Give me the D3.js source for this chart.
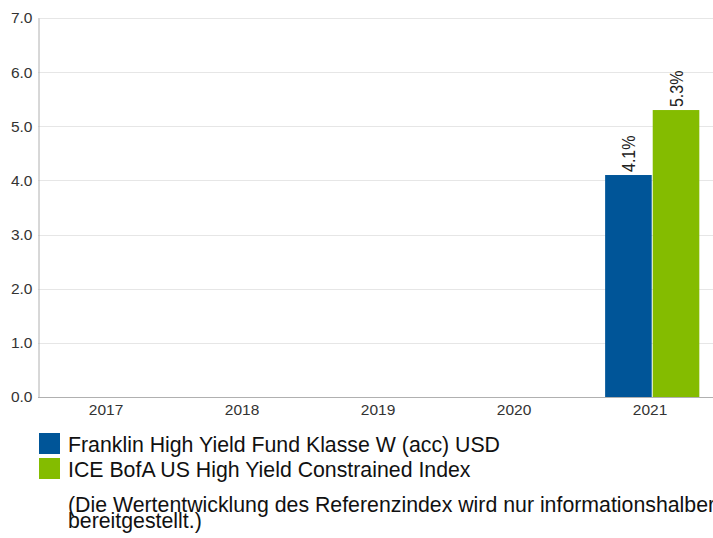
<!DOCTYPE html>
<html><head><meta charset="utf-8">
<script src="https://cdn.jsdelivr.net/npm/d3@7"></script>
<style>body{margin:0;background:#fff;overflow:hidden}svg{display:block;font-family:"Liberation Sans",Arial,sans-serif}</style>
</head><body>
<script>
const categories = ["2017","2018","2019","2020","2021"];
const seriesNames = ["Franklin High Yield Fund Klasse W (acc) USD","ICE BofA US High Yield Constrained Index"];
const fundValues = [null,null,null,null,4.1];
const indexValues = [null,null,null,null,5.3];
const yTicks = [0,1,2,3,4,5,6,7];
const colors = ["#005598","#84bc00"];
const note = ["(Die Wertentwicklung des Referenzindex wird nur informationshalber","bereitgestellt.)"];

const W=713,H=538;
const FF="Liberation Sans, Arial, sans-serif";
const svg=d3.select("body").append("svg").attr("width",W).attr("height",H);
const x=d3.scaleBand().domain(categories).range([38,718]).paddingInner(0).paddingOuter(0);
const y=d3.scaleLinear().domain([0,7]).range([397,18]);
const bw=x.bandwidth();
const off=bw*0.17, barW=bw*0.35;

// gridlines
svg.append("g").selectAll("line").data(yTicks.filter(d=>d>0)).join("line")
  .attr("x1",38).attr("x2",W).attr("y1",d=>Math.round(y(d))+0.5).attr("y2",d=>Math.round(y(d))+0.5)
  .attr("stroke","#e6e6e6");
// y axis
const ya=svg.append("g").attr("transform","translate(38.5,0)").call(d3.axisLeft(y).tickValues(yTicks).tickFormat(d3.format(".1f")).tickSize(0).tickPadding(6));
ya.select(".domain").attr("stroke","#b0b0b0");
ya.selectAll("text").attr("font-size",15.5).attr("fill","#333").attr("font-family",FF);
// x axis
const xa=svg.append("g").attr("transform","translate(0,397.5)").call(d3.axisBottom(x).tickSize(0).tickPadding(6));
xa.select(".domain").attr("stroke","#b0b0b0").attr("d","M38,0H"+W);
xa.selectAll("text").attr("font-size",15.5).attr("fill","#333").attr("font-family",FF);

const series=[fundValues,indexValues];
series.forEach((vals,si)=>{
  const data=categories.map((c,i)=>({c,v:vals[i]})).filter(d=>d.v!=null);
  svg.append("g").selectAll("rect").data(data).join("rect")
    .attr("x",d=>x(d.c)+off+si*barW).attr("width",barW-1)
    .attr("y",d=>y(d.v)).attr("height",d=>y(0)-y(d.v))
    .attr("fill",colors[si]);
  svg.append("g").selectAll("text").data(data).join("text")
    .attr("transform",d=>`translate(${x(d.c)+off+si*barW+(barW-1)/2},${y(d.v)-3}) rotate(-90) scale(1,1.2)`)
    .attr("dy","0.36em")
    .attr("font-size",16).attr("fill","#222")
    .text(d=>d.v.toFixed(1)+"%");
});

// legend
const lg=svg.append("g");
seriesNames.forEach((n,i)=>{
  lg.append("rect").attr("x",39).attr("y",433+i*25).attr("width",21).attr("height",21).attr("fill",colors[i]);
  lg.append("text").attr("x",68).attr("y",451.5+i*25).attr("font-size",21.3).attr("fill","#111").text(n);
});
note.forEach((t,i)=>{
  lg.append("text").attr("x",68).attr("y",512+i*16).attr("font-size",21.3).attr("fill","#111").text(t);
});
</script>
</body></html>
